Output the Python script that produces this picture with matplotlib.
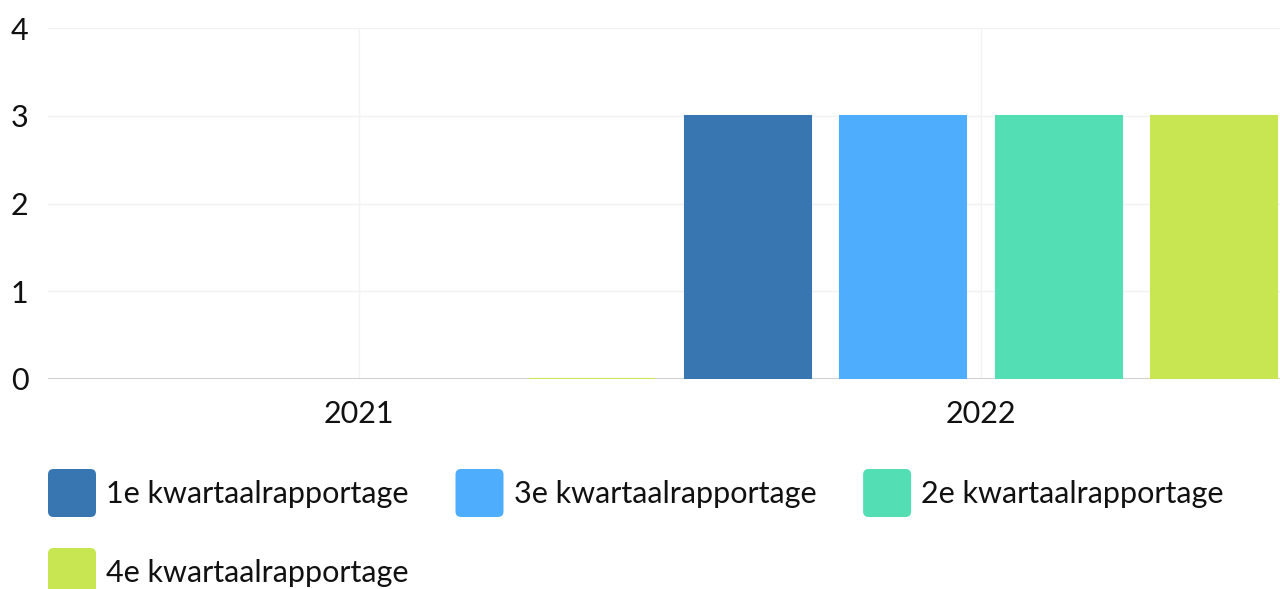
import numpy as np
import matplotlib
matplotlib.use("Agg")
import matplotlib.pyplot as plt
from matplotlib.patches import FancyBboxPatch, Patch
from matplotlib.legend_handler import HandlerPatch

plt.rcParams['font.family'] = ['Lato', 'DejaVu Sans']

categories = ["2021", "2022"]
series_names = ["1e kwartaalrapportage", "3e kwartaalrapportage",
                "2e kwartaalrapportage", "4e kwartaalrapportage"]
series_values = [
    [np.nan, 3],
    [np.nan, 3],
    [np.nan, 3],
    [0, 3],
]
colors = ["#3776B1", "#4FADFE", "#53DEB4", "#C7E652"]
y_ticks = [0, 1, 2, 3, 4]

W, H = 1280, 589
fig = plt.figure(figsize=(W / 100, H / 100), dpi=100)
left_px, right_px, top_px, bottom_px = 48, 1292, 28, 379
ax = fig.add_axes([left_px / W, 1 - bottom_px / H,
                   (right_px - left_px) / W, (bottom_px - top_px) / H])

x = np.arange(len(categories))
offsets = [-0.375, -0.125, 0.125, 0.375]
bw = 0.203
for vals, name, c, off in zip(series_values, series_names, colors, offsets):
    ax.bar(x + off, vals, width=bw, color=c, edgecolor=c, linewidth=1.5,
           label=name, zorder=3)

ax.set_xlim(-0.5, len(categories) - 0.5)
ax.set_ylim(0, 4)
ax.set_yticks(y_ticks)
ax.set_yticklabels([str(t) for t in y_ticks])
ax.set_xticks(x)
ax.set_xticklabels(categories)
ax.tick_params(axis='both', length=0, labelsize=22, colors='#111111')
ax.tick_params(axis='y', pad=14)
ax.tick_params(axis='x', pad=15)
for s in ax.spines.values():
    s.set_visible(False)
ax.grid(True, axis='both', color='#f2f2f2', linewidth=1, zorder=0)
ax.axhline(0, color='#cfcfcf', linewidth=1.4, zorder=2)


class RoundHandler(HandlerPatch):
    def create_artists(self, legend, orig_handle, xdescent, ydescent,
                       width, height, fontsize, trans):
        p = FancyBboxPatch((-xdescent, -ydescent), width, height,
                           boxstyle="round,pad=0,rounding_size=4",
                           facecolor=orig_handle.get_facecolor(),
                           edgecolor='none', transform=trans)
        return [p]


handles = [Patch(facecolor=c, label=n) for c, n in zip(colors, series_names)]
# legend fills column by column; order so rows read 1e, 3e, 2e / 4e
order = [0, 3, 1, 2]
handles = [handles[i] for i in order]
fs = 22
fpx = fs * 100 / 72
hh = (48 / fpx - 0.245) / 0.65
leg = fig.legend(handles=handles, loc='upper left',
                 bbox_to_anchor=(48 / W, 1 - 469 / H), ncol=3, frameon=False,
                 fontsize=fs, handlelength=48 / fpx, handleheight=hh,
                 handletextpad=10 / fpx, columnspacing=47 / fpx,
                 labelspacing=31 / fpx, borderpad=0, borderaxespad=0,
                 handler_map={Patch: RoundHandler()})
for t in leg.get_texts():
    t.set_color('#111111')

fig.savefig("out.png", dpi=100)
